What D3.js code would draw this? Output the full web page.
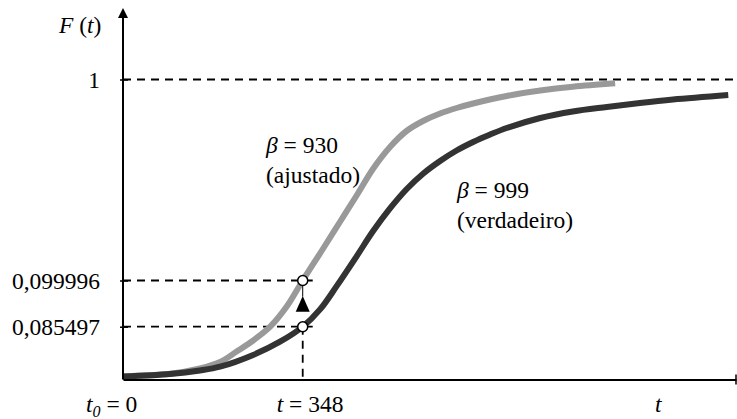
<!DOCTYPE html>
<html><head><meta charset="utf-8">
<script src="https://cdn.jsdelivr.net/npm/d3@7/dist/d3.min.js"></script>
<style>
body{margin:0;background:#fff;}
text{font-family:"Liberation Serif","Times New Roman",serif;font-size:23.5px;fill:#000;}
</style></head>
<body>
<svg id="c" width="737" height="419"></svg>
<script>
// ---- data ----
const yTickValues = [0.085497, 0.099996, 1];
const yTickLabels = ["0,085497", "0,099996", "1"];
const tMark = 348;
const fAjustado = 0.099996;
const fVerdadeiro = 0.085497;

const ajustadoT = [0, 91, 149, 188, 220, 252, 285, 317, 348, 387, 420, 453, 484, 517, 549, 581, 614, 646, 678, 743, 808, 871, 953];
const ajustadoF = [0.0049, 0.0092, 0.0178, 0.0283, 0.0453, 0.0632, 0.0855, 0.0918, 0.099996, 0.2410, 0.3619, 0.4828, 0.5993, 0.6977, 0.7694, 0.8142, 0.8477, 0.8724, 0.8925, 0.9261, 0.9507, 0.9678, 0.9830];

const verdadeiroT = [0, 91, 149, 188, 252, 304, 348, 382, 414, 453, 484, 517, 549, 581, 614, 646, 678, 711, 743, 808, 871, 937, 1001, 1065, 1172];
const verdadeiroF = [0.0049, 0.0089, 0.0146, 0.0207, 0.0397, 0.0612, 0.085497, 0.0910, 0.0983, 0.2106, 0.3203, 0.4228, 0.5088, 0.5782, 0.6351, 0.6821, 0.7202, 0.7537, 0.7828, 0.8276, 0.8567, 0.8769, 0.8948, 0.9104, 0.9306];

// ---- scales ----
const svg = d3.select("#c");
const x = d3.scaleLinear().domain([0, 1187]).range([123, 736]);
const y = d3.scaleLinear().domain([0, 0.085497, 0.099996, 1]).range([379.5, 326.7, 280.5, 79.5]);

const dash = "8,6";
const dashW = 1.8;

// reference dashed lines
svg.append("line").attr("x1", x(0)).attr("x2", 737).attr("y1", y(1)).attr("y2", y(1))
  .attr("stroke", "#000").attr("stroke-width", dashW).attr("stroke-dasharray", dash);
[fAjustado, fVerdadeiro].forEach(f => {
  svg.append("line").attr("x1", x(0)).attr("x2", x(tMark) + 10).attr("y1", y(f)).attr("y2", y(f))
    .attr("stroke", "#000").attr("stroke-width", dashW).attr("stroke-dasharray", dash);
});
svg.append("line").attr("x1", x(tMark)).attr("x2", x(tMark)).attr("y1", y(fVerdadeiro)).attr("y2", y(0))
  .attr("stroke", "#000").attr("stroke-width", dashW).attr("stroke-dasharray", dash);

// curves
const line = d3.line().x(d => x(d[0])).y(d => y(d[1])).curve(d3.curveCatmullRom.alpha(0.5));
svg.append("path").datum(d3.zip(ajustadoT, ajustadoF)).attr("d", line)
  .attr("fill", "none").attr("stroke", "#999").attr("stroke-width", 6);
svg.append("path").datum(d3.zip(verdadeiroT, verdadeiroF)).attr("d", line)
  .attr("fill", "none").attr("stroke", "#333").attr("stroke-width", 6);

// x axis
const xAxis = svg.append("g").attr("transform", `translate(0,${y(0)})`)
  .call(d3.axisBottom(x).tickValues([]).tickSizeOuter(0));
xAxis.select(".domain").attr("stroke-width", 2);
svg.append("line").attr("x1", x.range()[1]).attr("x2", x.range()[1]).attr("y1", y(0) - 5).attr("y2", y(0) + 5)
  .attr("stroke", "#000").attr("stroke-width", 1.5);

// y axis
const yAxis = svg.append("g").attr("transform", `translate(${x(0)},0)`)
  .call(d3.axisLeft(y).tickValues(yTickValues).tickFormat((d, i) => yTickLabels[i])
    .tickSizeInner(-5).tickSizeOuter(0).tickPadding(23));
yAxis.select(".domain").remove();
yAxis.selectAll(".tick line").attr("x1", -3).attr("stroke-width", 1.5);
yAxis.selectAll(".tick text").style("font-family", "Liberation Serif").style("font-size", "23.5px");
svg.append("line").attr("x1", x(0)).attr("x2", x(0)).attr("y1", y(0)).attr("y2", 14)
  .attr("stroke", "#000").attr("stroke-width", 2);
svg.append("path").attr("d", `M${x(0)},8 L${x(0) - 5},18 L${x(0) + 5},18 Z`).attr("fill", "#000");

// markers
svg.append("line").attr("x1", x(tMark)).attr("x2", x(tMark)).attr("y1", y(fAjustado)).attr("y2", y(fAjustado) + 16)
  .attr("stroke", "#000").attr("stroke-width", 1);
const triTop = y(fAjustado) + 15.5, triBase = y(fVerdadeiro) - 15;
svg.append("path").attr("d", `M${x(tMark)},${triTop} L${x(tMark) - 7},${triBase} L${x(tMark) + 7},${triBase} Z`).attr("fill", "#000");
[fAjustado, fVerdadeiro].forEach(f => {
  svg.append("circle").attr("cx", x(tMark)).attr("cy", y(f)).attr("r", 5)
    .attr("fill", "#fff").attr("stroke", "#000").attr("stroke-width", 1.5);
});

// labels
const fl = svg.append("text").attr("x", 59).attr("y", 33);
fl.append("tspan").attr("font-style", "italic").text("F");
fl.append("tspan").text(" (");
fl.append("tspan").attr("font-style", "italic").text("t");
fl.append("tspan").text(")");

const t0 = svg.append("text").attr("x", x(0) - 37).attr("y", 412);
t0.append("tspan").attr("font-style", "italic").text("t");
t0.append("tspan").attr("font-style", "italic").attr("font-size", "16px").attr("dy", 5).text("0");
t0.append("tspan").attr("dy", -5).text(" = 0");

const tl = svg.append("text").attr("x", x(tMark) - 26).attr("y", 412);
tl.append("tspan").attr("font-style", "italic").text("t");
tl.append("tspan").text(" = " + tMark);

svg.append("text").attr("x", 655).attr("y", 411.5).attr("font-style", "italic").text("t");

function annot(px, py, beta, sub) {
  const a = svg.append("text").attr("x", px).attr("y", py);
  a.append("tspan").attr("font-style", "italic").text("\u03B2");
  a.append("tspan").text(" = " + beta);
  svg.append("text").attr("x", px).attr("y", py + 30).text(sub);
}
annot(266, 153, 930, "(ajustado)");
annot(457, 198, 999, "(verdadeiro)");
</script>
</body></html>
